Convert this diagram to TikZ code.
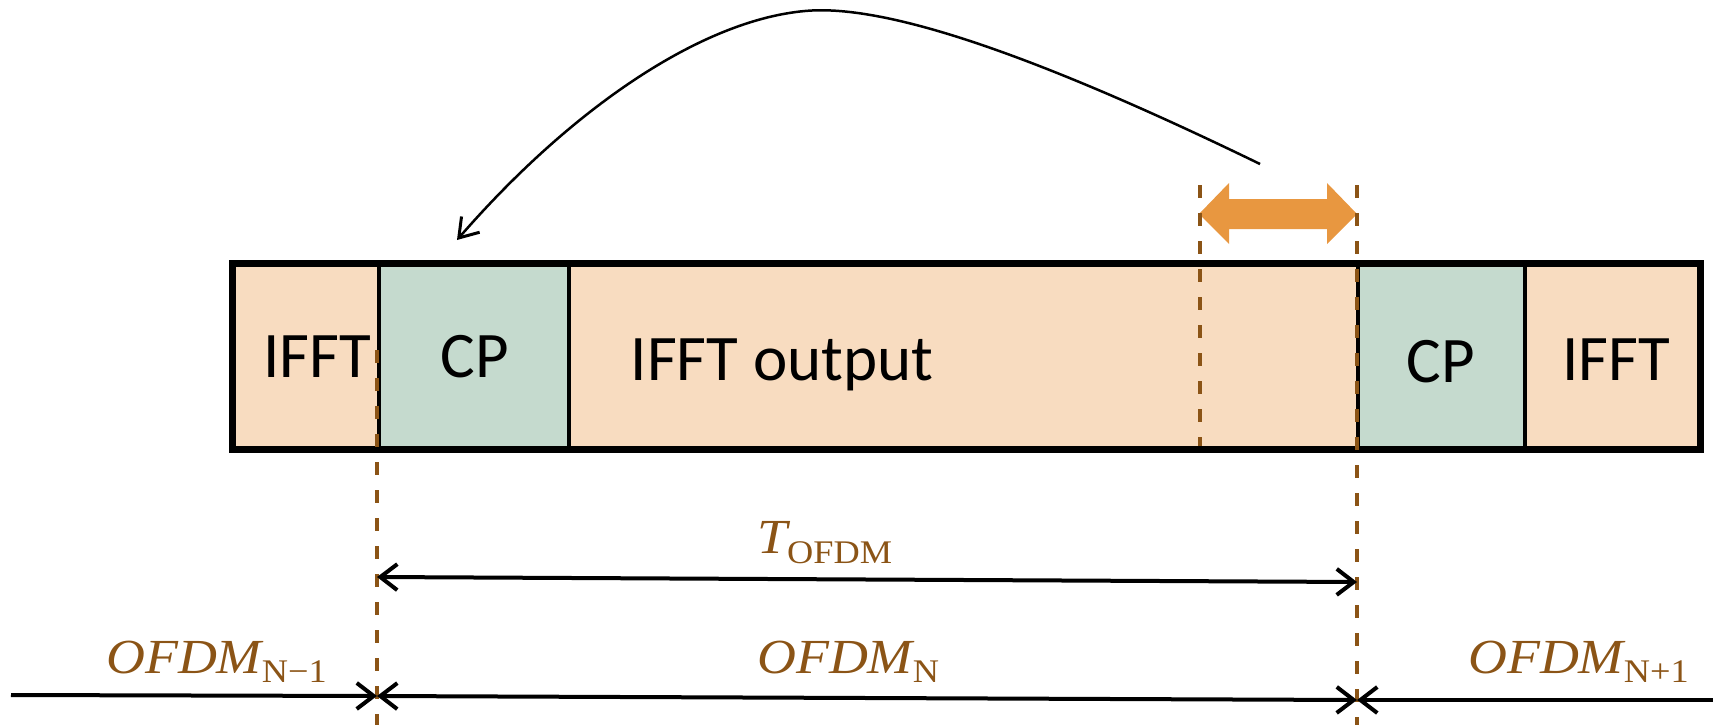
\documentclass[tikz,border=0pt]{standalone}
\usepackage{fontspec}
\setmainfont{Carlito}
\newfontfamily\labfont[FakeStretch=1.1]{Liberation Serif}
\usetikzlibrary{arrows.meta}
\definecolor{peach}{RGB}{248,220,192}
\definecolor{sage}{RGB}{197,218,206}
\definecolor{tangerine}{RGB}{232,151,64}
\definecolor{umber}{RGB}{139,84,22}
\newcommand\symsub[2]{\raisebox{-#1}{\fontsize{33}{36}\selectfont\upshape #2}}
\tikzset{
  seg/.style={draw=black, line width=4pt, rectangle, inner sep=0pt, minimum height=183pt, anchor=north west},
  blocktext/.style={font=\fontsize{65}{70}\selectfont, anchor=base, inner sep=0pt},
  symlabel/.style={font=\labfont\fontsize{49}{54}\selectfont\itshape, text=umber, anchor=base west, inner sep=0pt},
  boundary/.style={draw=umber, line width=4pt, dash pattern=on 13pt off 15pt},
  barb/.tip={Straight Barb[length=17pt, width=26pt, line width=4pt]},
  dimline/.style={line width=4pt, line cap=butt},
  copyarc/.style={line width=2.5pt, -{Straight Barb[length=18pt, width=24pt, line width=3pt]}}
}
\begin{document}
\begin{tikzpicture}[x=1pt, y=-1pt]
\useasboundingbox (0,0) rectangle (1713,725);

% symbol frame: IFFT tail | CP | IFFT output | CP | IFFT head
\node[seg, fill=peach, minimum width=145pt] (ifftL) at (232,263) {};
\node[seg, fill=sage,  minimum width=190pt] (cpL)   at (377,263) {};
\node[seg, fill=peach, minimum width=789pt] (body)  at (567,263) {};
\node[seg, fill=sage,  minimum width=167pt] (cpR)   at (1356,263) {};
\node[seg, fill=peach, minimum width=174pt] (ifftR) at (1523,263) {};
\draw[line width=6pt] (ifftL.north west) rectangle (ifftR.south east);

\node[blocktext] (tIfftL) at (317,377) {IFFT};
\node[blocktext] (tCpL)   at (475,377) {CP};
\node[blocktext] (tBody)  at (782,380) {IFFT output};
\node[blocktext] (tCpR)   at (1441,382) {CP};
\node[blocktext] (tIfftR) at (1616,380) {IFFT};

% the copied tail segment
\fill[tangerine] (1199,214) -- (1229,183) -- (1229,199) -- (1327,199) -- (1327,183)
  -- (1357,214) -- (1327,244) -- (1327,229) -- (1229,229) -- (1229,244) -- cycle;

% symbol boundaries
\coordinate (dAtop) at (377,350);
\coordinate (dAbot) at (377,725);
\coordinate (dBtop) at (1200,185);
\coordinate (dBbot) at (1200,446);
\coordinate (dCtop) at (1357,185);
\coordinate (dCbot) at (1357,725);
\draw[boundary] (dAtop) -- (dAbot);
\draw[boundary] (dBtop) -- (dBbot);
\draw[boundary] (dCtop) -- (dCbot);

% tail copied in front as cyclic prefix
\coordinate (arcStart) at (1260,164);
\coordinate (arcEnd) at (457,240);
\draw[copyarc] (arcStart) .. controls (1050,62) and (890,3) .. (805,11)
  .. controls (700,20.4) and (570,110) .. (arcEnd);

% symbol duration
\coordinate (tA) at (377,577);
\coordinate (tC) at (1357,582);
\draw[dimline, barb-barb] (tA) -- (tC);
\node[symlabel] (lblT) at (757,553) {T\symsub{10pt}{OFDM}};

% symbol sequence
\coordinate (seqL) at (11,695);
\coordinate (seqA) at (377,696);
\coordinate (seqC) at (1357,700);
\coordinate (seqR) at (1713,700);
\draw[dimline, -barb] (seqL) -- (seqA);
\draw[dimline, barb-barb] (seqA) -- (seqC);
\draw[dimline, -barb] (seqR) -- (seqC);
\node[symlabel] (lblPrev) at (106,673) {OFDM\symsub{9pt}{N−1}};
\node[symlabel] (lblCur)  at (757,673) {OFDM\symsub{9pt}{N}};
\node[symlabel] (lblNext) at (1468,673) {OFDM\symsub{9pt}{N+1}};
\end{tikzpicture}
\end{document}
